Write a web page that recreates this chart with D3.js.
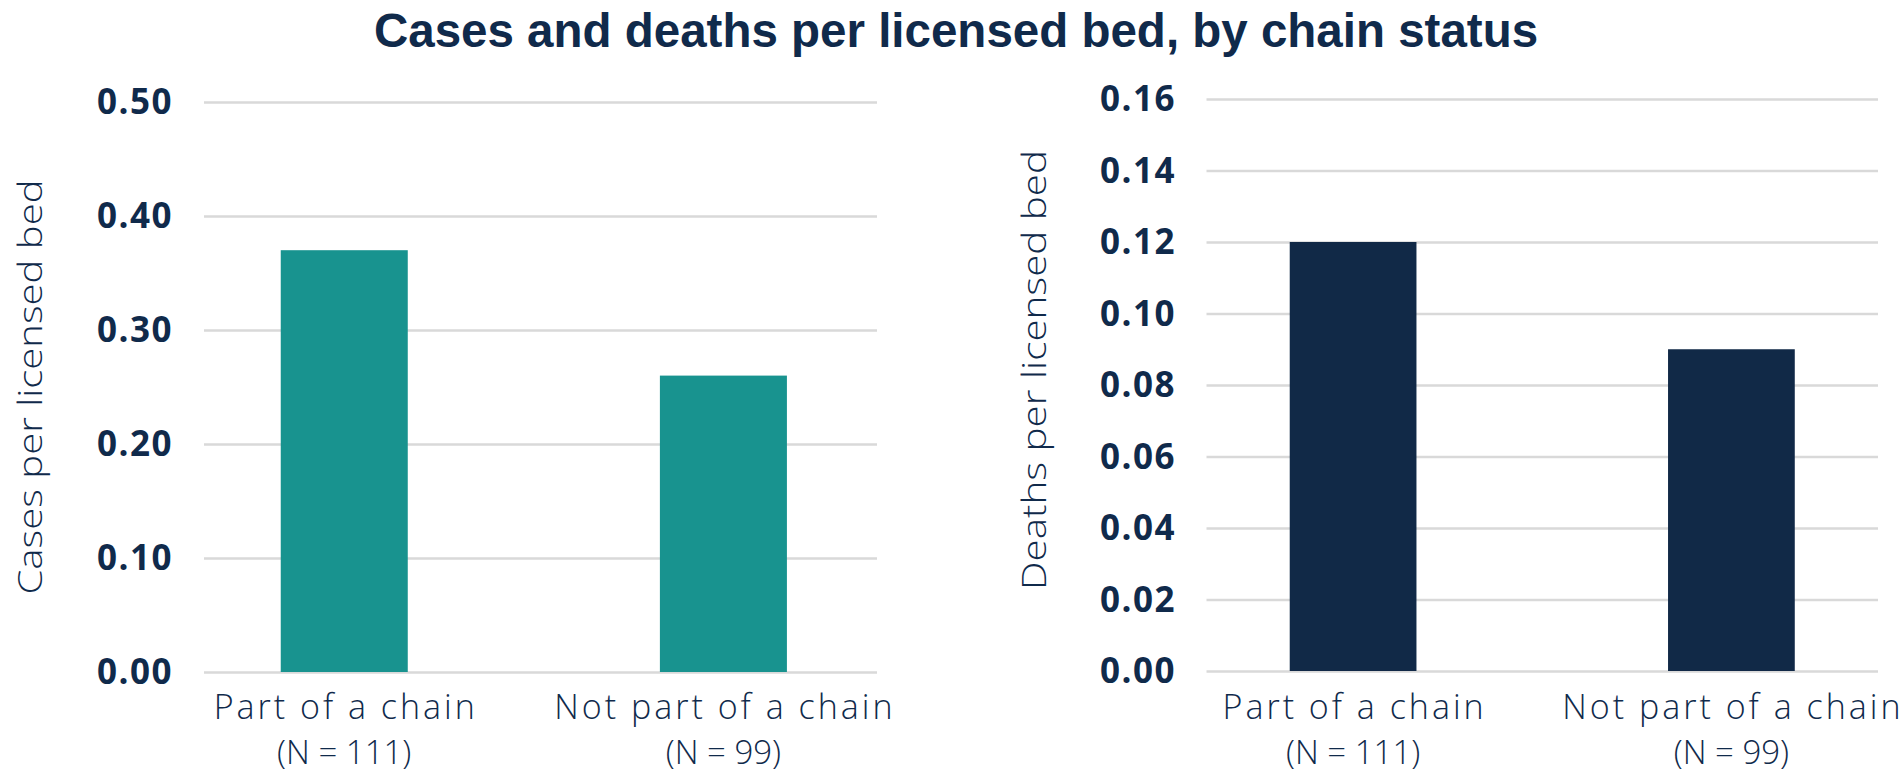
<!DOCTYPE html>
<html>
<head>
<meta charset="utf-8">
<script src="https://cdn.jsdelivr.net/npm/d3@7"></script>
<style>
  html, body { margin: 0; padding: 0; background: #fff; }
  svg { display: block; }
</style>
</head>
<body>
<svg id="chart" width="1903" height="774"></svg>
<script>
// data
const categories = ["Part of a chain", "Not part of a chain"];
const sampleSizes = ["(N = 111)", "(N = 99)"];
const casesPerBed = [0.37, 0.26];
const deathsPerBed = [0.12, 0.09];
const caseTicks = [0, 0.1, 0.2, 0.3, 0.4, 0.5];
const deathTicks = [0, 0.02, 0.04, 0.06, 0.08, 0.1, 0.12, 0.14, 0.16];

const navy = "#102a4b";
const gridColor = "#d9d9d9";
const tickFont = "'Open Sans', 'DejaVu Sans', sans-serif";
const lightFont = "'Open Sans', 'Lato', sans-serif";

const svg = d3.select("#chart");

svg.append("text")
  .attr("x", 956)
  .attr("y", 47)
  .attr("text-anchor", "middle")
  .attr("fill", navy)
  .style("font-family", "'Liberation Sans', Arial, sans-serif")
  .style("font-weight", "bold")
  .style("font-size", "47.5px")
  .text("Cases and deaths per licensed bed, by chain status");

/**
 * draws one bar panel
 */
function drawPanel(p) {
  const xBand = d3.scaleBand()
    .domain(categories)
    .range([p.left, p.right])
    .paddingInner(0.665)
    .paddingOuter(0.22)
    .align(p.align);

  const y = d3.scaleLinear()
    .domain([0, d3.max(p.ticks)])
    .range([p.bottom, p.top]);

  const yAxis = d3.axisLeft(y)
    .tickValues(p.ticks)
    .tickFormat(d3.format(".2f"))
    .tickSizeInner(-(p.right - p.left))
    .tickSizeOuter(0)
    .tickPadding(p.left - p.labelRight);

  const axisG = svg.append("g")
    .attr("transform", `translate(${p.left},0)`)
    .call(yAxis);

  axisG.select(".domain").remove();
  axisG.selectAll(".tick line")
    .attr("stroke", gridColor)
    .attr("stroke-width", 2.6);
  axisG.selectAll(".tick text")
    .attr("fill", navy)
    .attr("dy", "0.34em")
    .style("font-family", tickFont)
    .style("font-weight", "bold")
    .style("font-size", "35px")
    .style("letter-spacing", "1.5px");

  svg.append("g")
    .selectAll("rect")
    .data(p.values)
    .join("rect")
    .attr("x", (d, i) => xBand(categories[i]))
    .attr("width", xBand.bandwidth())
    .attr("y", (d) => y(d))
    .attr("height", (d) => y(0) - y(d))
    .attr("fill", p.color);

  const labels = svg.append("g");
  categories.forEach((c, i) => {
    const cx = xBand(c) + xBand.bandwidth() / 2;
    labels.append("text")
      .attr("x", cx + 1.5)
      .attr("y", 719)
      .attr("text-anchor", "middle")
      .attr("fill", navy)
      .style("font-family", lightFont)
      .style("font-weight", 300)
      .style("font-size", "34px")
      .style("letter-spacing", "3px")
      .text(c);
    labels.append("text")
      .attr("x", cx)
      .attr("y", 764)
      .attr("text-anchor", "middle")
      .attr("fill", navy)
      .style("font-family", lightFont)
      .style("font-weight", 300)
      .style("font-size", "33px")
      .text(sampleSizes[i]);
  });

  svg.append("text")
    .attr("transform", `translate(${p.titleX},${p.titleY}) rotate(-90)`)
    .attr("text-anchor", "middle")
    .attr("fill", navy)
    .style("font-family", lightFont)
    .style("font-weight", 300)
    .style("font-size", "33px")
    .attr("textLength", p.titleLen)
    .attr("lengthAdjust", "spacingAndGlyphs")
    .text(p.title);
}

drawPanel({
  left: 204, right: 877, top: 102, bottom: 672, labelRight: 173,
  align: 0.46, ticks: caseTicks, values: casesPerBed, color: "#18938f",
  title: "Cases per licensed bed", titleX: 42, titleY: 387, titleLen: 415
});

drawPanel({
  left: 1206.5, right: 1878, top: 99, bottom: 671, labelRight: 1176,
  align: 0.5, ticks: deathTicks, values: deathsPerBed, color: "#112947",
  title: "Deaths per licensed bed", titleX: 1046, titleY: 370, titleLen: 440
});
</script>
</body>
</html>
